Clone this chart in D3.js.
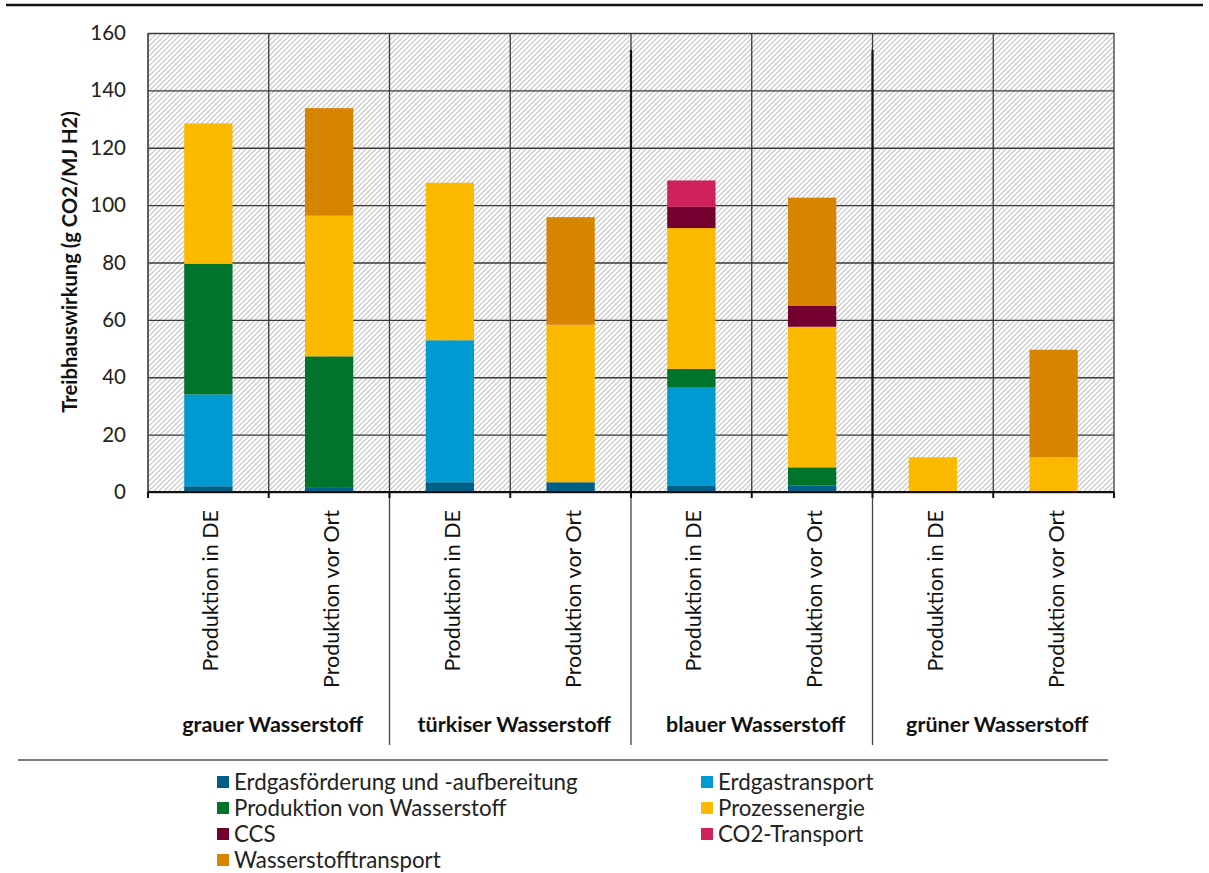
<!DOCTYPE html>
<html>
<head>
<meta charset="utf-8">
<script src="https://cdn.jsdelivr.net/npm/d3@7/dist/d3.min.js"></script>
<style>
  html, body { margin: 0; padding: 0; background: #fff; }
  svg { display: block; font-family: Lato, "Open Sans", "Liberation Sans", sans-serif; }
</style>
</head>
<body>
<svg id="chart" width="1209" height="873"></svg>
<script>
// Categories (two bars per hydrogen colour)
const categories = [
  "Produktion in DE", "Produktion vor Ort",
  "Produktion in DE", "Produktion vor Ort",
  "Produktion in DE", "Produktion vor Ort",
  "Produktion in DE", "Produktion vor Ort"
];
const groups = ["grauer Wasserstoff", "türkiser Wasserstoff", "blauer Wasserstoff", "grüner Wasserstoff"];

// Emissions per stage, g CO2/MJ H2
const erdgasfoerderung     = [2.0, 1.7, 3.4, 3.4, 2.1, 2.2, 0, 0];
const erdgastransport      = [32.0, 0, 49.5, 0, 34.5, 0, 0, 0];
const produktionH2         = [45.5, 45.6, 0, 0, 6.3, 6.4, 0, 0];
const prozessenergie       = [49.0, 49.0, 54.9, 54.9, 49.1, 49.0, 12.1, 12.1];
const ccs                  = [0, 0, 0, 0, 7.4, 7.4, 0, 0];
const co2Transport         = [0, 0, 0, 0, 9.2, 0, 0, 0];
const wasserstofftransport = [0, 37.5, 0, 37.5, 0, 37.6, 0, 37.5];

const seriesNames = [
  "Erdgasförderung und -aufbereitung", "Erdgastransport",
  "Produktion von Wasserstoff", "Prozessenergie",
  "CCS", "CO2-Transport", "Wasserstofftransport"
];
const seriesValues = [erdgasfoerderung, erdgastransport, produktionH2, prozessenergie, ccs, co2Transport, wasserstofftransport];
const seriesColors = ["#005f87", "#009ad3", "#00742a", "#fbba00", "#740030", "#cf225b", "#d78400"];

const yTicks = [0, 20, 40, 60, 80, 100, 120, 140, 160];

const svg = d3.select("#chart");

// Plot frame
const plotLeft = 148, plotRight = 1114, plotTop = 33, plotBottom = 492;

const x = d3.scaleBand().domain(d3.range(categories.length)).range([plotLeft, plotRight]).padding(0);
const y = d3.scaleLinear().domain([0, 160]).range([plotBottom, plotTop]);

// Hatched background
const defs = svg.append("defs");
const pat = defs.append("pattern")
  .attr("id", "hatch").attr("patternUnits", "userSpaceOnUse")
  .attr("width", 5).attr("height", 5);
pat.append("rect").attr("width", 5).attr("height", 5).attr("fill", "#fff");
pat.append("path").attr("d", "M-1,1 l2,-2 M0,5 l5,-5 M4,6 l2,-2")
  .attr("stroke", "#cbcbcb").attr("stroke-width", 1.3);

svg.append("rect")
  .attr("x", plotLeft).attr("y", plotTop)
  .attr("width", plotRight - plotLeft).attr("height", plotBottom - plotTop)
  .attr("fill", "url(#hatch)");

// Top rule
svg.append("line").attr("x1", 6).attr("x2", 1203).attr("y1", 5).attr("y2", 5)
  .attr("stroke", "#111").attr("stroke-width", 2.5);

// Horizontal gridlines
svg.append("g")
  .attr("transform", `translate(${plotLeft},0)`)
  .call(d3.axisLeft(y).tickValues(yTicks).tickSize(-(plotRight - plotLeft)).tickFormat(""))
  .call(g => g.select(".domain").remove())
  .call(g => g.selectAll(".tick line").attr("stroke", "#3a3a3a").attr("stroke-width", 1.3));

// Vertical gridlines at column boundaries
const bounds = d3.range(categories.length + 1).map(i => plotLeft + i * x.step());
svg.append("g").selectAll("line")
  .data(bounds)
  .join("line")
  .attr("x1", d => d).attr("x2", d => d)
  .attr("y1", plotTop).attr("y2", plotBottom)
  .attr("stroke", "#3a3a3a").attr("stroke-width", 1.3);

// Stacked bars
const barW = x.bandwidth() * 0.4;
const stackRows = categories.map((c, i) => {
  const row = { i };
  seriesNames.forEach((s, k) => row[s] = seriesValues[k][i]);
  return row;
});
const stacked = d3.stack().keys(seriesNames)(stackRows);

svg.append("g").selectAll("g")
  .data(stacked)
  .join("g")
  .attr("fill", (d, k) => seriesColors[k])
  .selectAll("rect")
  .data(d => d.filter(p => p[1] - p[0] > 0))
  .join("rect")
  .attr("x", p => x(p.data.i) + (x.bandwidth() - barW) / 2)
  .attr("width", barW)
  .attr("y", p => y(p[1]))
  .attr("height", p => y(p[0]) - y(p[1]));

// Group separators (thicker in the plot for blue/green)
const groupBounds = [2, 4, 6].map(i => plotLeft + i * x.step());
svg.append("g").selectAll("line")
  .data(groupBounds)
  .join("line")
  .attr("x1", d => d).attr("x2", d => d)
  .attr("y1", plotBottom).attr("y2", 745)
  .attr("stroke", "#444").attr("stroke-width", 1.3);
svg.append("g").selectAll("line")
  .data(groupBounds.slice(1))
  .join("line")
  .attr("x1", d => d).attr("x2", d => d)
  .attr("y1", 50).attr("y2", plotBottom)
  .attr("stroke", "#111").attr("stroke-width", 2.2);

// Y axis line and labels
svg.append("line").attr("x1", plotLeft).attr("x2", plotLeft).attr("y1", plotTop).attr("y2", plotBottom)
  .attr("stroke", "#555").attr("stroke-width", 1.5);
svg.append("g")
  .attr("transform", `translate(${plotLeft},0)`)
  .call(d3.axisLeft(y).tickValues(yTicks).tickSize(0).tickPadding(22).tickFormat(d3.format("d")))
  .call(g => g.select(".domain").remove())
  .call(g => g.selectAll("text")
    .attr("font-family", "Lato, sans-serif")
    .attr("font-size", 20.5).attr("fill", "#222"));

// X axis baseline with ticks at column boundaries
svg.append("line").attr("x1", plotLeft).attr("x2", plotRight).attr("y1", plotBottom).attr("y2", plotBottom)
  .attr("stroke", "#111").attr("stroke-width", 2);
svg.append("g").selectAll("line")
  .data(bounds)
  .join("line")
  .attr("x1", d => d).attr("x2", d => d)
  .attr("y1", plotBottom).attr("y2", plotBottom + 6)
  .attr("stroke", "#111").attr("stroke-width", 2);

// Rotated category labels
svg.append("g").selectAll("text")
  .data(categories)
  .join("text")
  .attr("transform", (d, i) => `translate(${x(i) + x.bandwidth() / 2 + 10},510) rotate(-90)`)
  .attr("text-anchor", "end")
  .attr("font-size", 21.5).attr("fill", "#111")
  .text(d => d);

// Group labels
svg.append("g").selectAll("text")
  .data(groups)
  .join("text")
  .attr("x", (d, g) => plotLeft + (2 * g + 1) * x.step() + 4)
  .attr("y", 732)
  .attr("text-anchor", "middle")
  .attr("font-size", 21.5).attr("font-weight", "bold").attr("fill", "#111")
  .text(d => d);

// Y axis title
svg.append("text")
  .attr("transform", "translate(77,262) rotate(-90)")
  .attr("text-anchor", "middle")
  .attr("font-size", 20.2).attr("font-weight", "bold").attr("fill", "#111")
  .text("Treibhauswirkung (g CO2/MJ H2)");

// Legend rule
svg.append("line").attr("x1", 18).attr("x2", 1108).attr("y1", 760).attr("y2", 760)
  .attr("stroke", "#555").attr("stroke-width", 1.5);

// Legend
const legend = svg.append("g").selectAll("g")
  .data(seriesNames)
  .join("g")
  .attr("transform", (d, k) => `translate(${k % 2 === 0 ? 217 : 701},${782 + Math.floor(k / 2) * 26})`);
legend.append("rect")
  .attr("x", 0).attr("y", -6).attr("width", 12).attr("height", 12)
  .attr("fill", (d, k) => seriesColors[k]);
legend.append("text")
  .attr("x", 17).attr("y", 0).attr("dy", "0.35em")
  .attr("font-size", 22.3).attr("fill", "#222")
  .text(d => d);
</script>
</body>
</html>
